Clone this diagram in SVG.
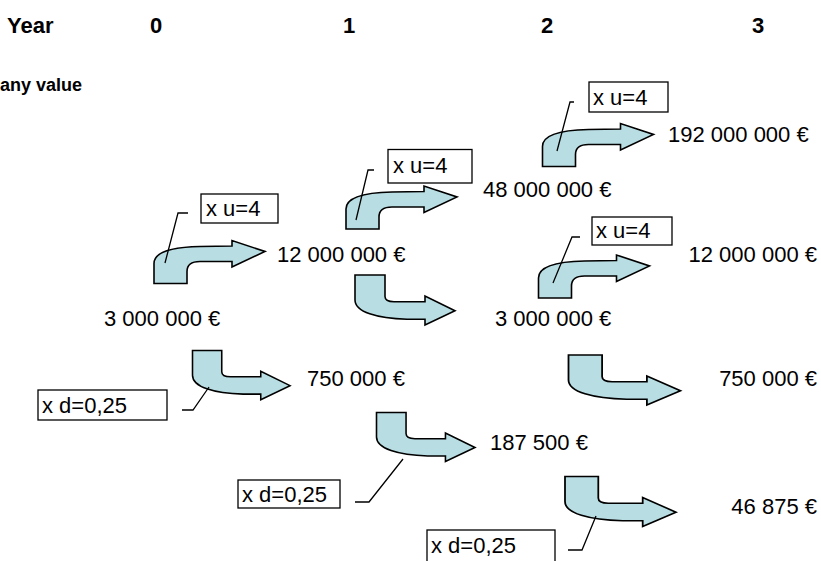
<svg xmlns="http://www.w3.org/2000/svg" width="821" height="561" viewBox="0 0 821 561">
<style>
.t{font-family:"Liberation Sans",Arial,sans-serif;font-size:22px;fill:#000}
.h{font-family:"Liberation Sans",Arial,sans-serif;font-size:22px;font-weight:bold;fill:#000}
.a{fill:#b8dde3;stroke:#000;stroke-width:1.6;stroke-linejoin:miter}
.b{fill:#fff;stroke:#000;stroke-width:1.3}
.l{fill:none;stroke:#000;stroke-width:1.3}
</style>
<defs>
<path id="up" d="M0 43 V23 C0 11 20 6.5 46 6 L78 5.5 V0 L111 11 L78 26.5 V21 H46 C38 21 33 24 33 31 V43 Z"/>
<path id="dn" d="M0 0 H30 V21.5 C30 24.5 33 26.7 39 26.7 H70 V21 L100 35.7 L70 50 V44.3 H52 C22 43.5 0 37 0 25 Z"/>
</defs>
<g id="header">
<text class="h" x="7" y="33">Year</text>
<text class="h" x="150" y="33">0</text>
<text class="h" x="343" y="33">1</text>
<text class="h" x="541" y="33">2</text>
<text class="h" x="752" y="33">3</text>
<text class="h" x="0" y="91" style="font-size:18px">any value</text>
</g>
<g id="values">
<text class="t" x="668" y="142">192 000 000 €</text>
<text class="t" x="483" y="197">48 000 000 €</text>
<text class="t" x="277" y="262">12 000 000 €</text>
<text class="t" x="817" y="262" text-anchor="end">12 000 000 €</text>
<text class="t" x="104" y="326">3 000 000 €</text>
<text class="t" x="495" y="326">3 000 000 €</text>
<text class="t" x="307" y="386">750 000 €</text>
<text class="t" x="817" y="386" text-anchor="end">750 000 €</text>
<text class="t" x="490" y="450">187 500 €</text>
<text class="t" x="817" y="514" text-anchor="end">46 875 €</text>
</g>
<g id="connectors">
<use href="#up" class="a" transform="translate(154,240.5)"/>
<use href="#up" class="a" transform="translate(346,186)"/>
<use href="#up" class="a" transform="translate(542.5,123.5)"/>
<use href="#up" class="a" transform="translate(538.5,255)"/>
<use href="#dn" class="a" transform="translate(192.5,350.5) scale(0.975,0.985)"/>
<use href="#dn" class="a" transform="translate(355,275)"/>
<use href="#dn" class="a" transform="translate(376.5,412.5) scale(0.985,0.98)"/>
<use href="#dn" class="a" transform="translate(568.5,355) scale(1.12,1)"/>
<use href="#dn" class="a" transform="translate(565,476.5) scale(1.11,1)"/>
</g>
<g id="label-u1">
<rect class="b" x="201" y="194" width="77" height="29"/>
<text class="t" x="206" y="216">x u=4</text>
<polyline class="l" points="188,213 178,213 165,263"/>
</g>
<g id="label-u2">
<rect class="b" x="388" y="149.5" width="84" height="33.5"/>
<text class="t" x="393" y="173">x u=4</text>
<polyline class="l" points="374,170 368,170 356,220"/>
</g>
<g id="label-u3">
<rect class="b" x="589" y="82" width="79" height="30"/>
<text class="t" x="593" y="105">x u=4</text>
<polyline class="l" points="574,102 570,102 557,151"/>
</g>
<g id="label-u4">
<rect class="b" x="592" y="217" width="80" height="28"/>
<text class="t" x="596" y="238">x u=4</text>
<polyline class="l" points="580,237 572,237 553,283"/>
</g>
<g id="label-d1">
<rect class="b" x="38" y="390" width="129" height="30"/>
<text class="t" x="42" y="413">x d=0,25</text>
<polyline class="l" points="182,410 193,410 209,387"/>
</g>
<g id="label-d2">
<rect class="b" x="238" y="480" width="102" height="28"/>
<text class="t" x="242" y="502">x d=0,25</text>
<polyline class="l" points="355,502 369,502 403,459"/>
</g>
<g id="label-d3">
<rect class="b" x="427" y="530" width="128" height="33"/>
<text class="t" x="431" y="553">x d=0,25</text>
<polyline class="l" points="568,550 582,550 596,516"/>
</g>
</svg>
